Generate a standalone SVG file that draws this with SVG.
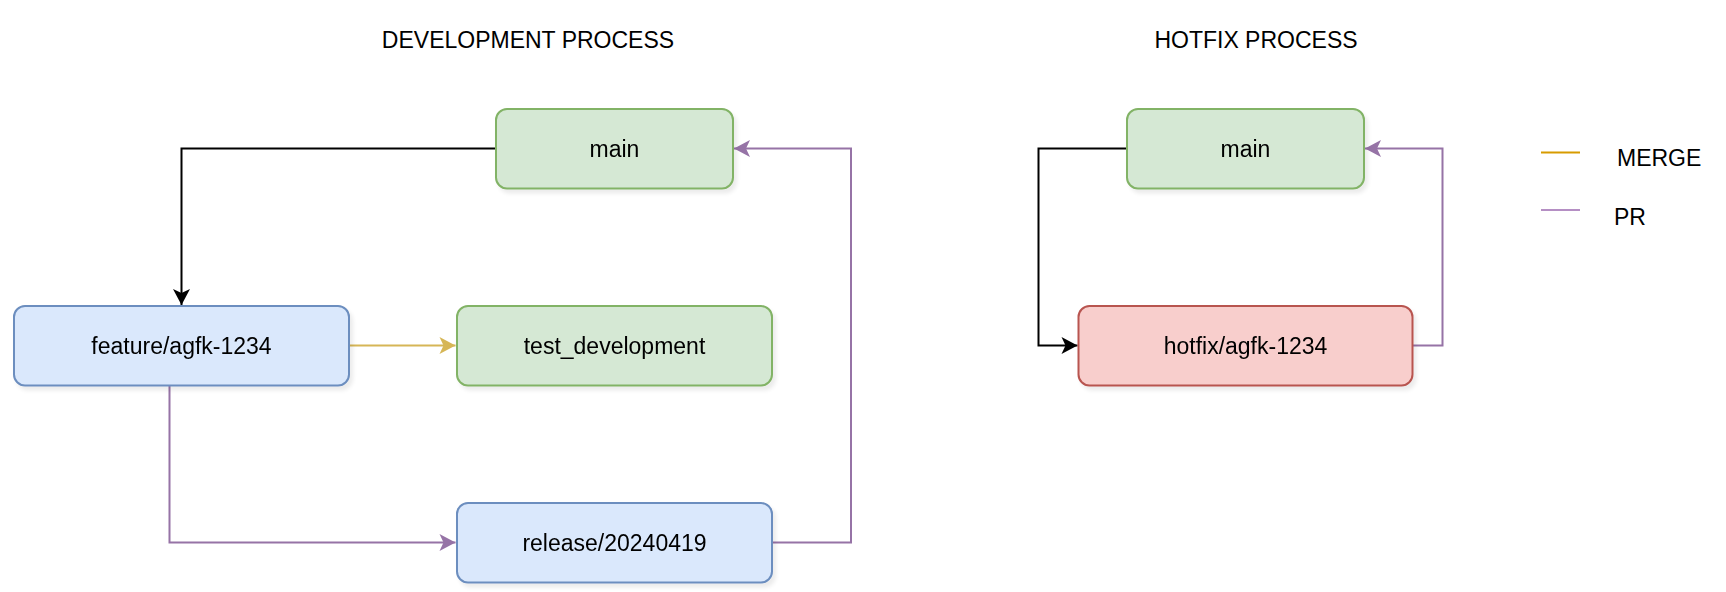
<svg xmlns="http://www.w3.org/2000/svg" width="1726" height="592" viewBox="0 0 1726 592">
<defs>
<style>
text{font-family:"Liberation Sans",Arial,sans-serif;font-size:23px;fill:#000}
.t{text-anchor:middle;dominant-baseline:central}
.green{fill:#d5e8d4;stroke:#82b366;stroke-width:2}
.blue{fill:#dae8fc;stroke:#6c8ebf;stroke-width:2}
.red{fill:#f8cecc;stroke:#b85450;stroke-width:2}
.c{fill:none;stroke-width:2}
.k{stroke:#000}
.p{stroke:#9673a6}
.y{stroke:#d6b656}
</style>
<filter id="sh" x="-10%" y="-10%" width="130%" height="140%">
<feGaussianBlur in="SourceAlpha" stdDeviation="2"/>
<feOffset dx="3" dy="4"/>
<feComponentTransfer><feFuncA type="linear" slope="0.08"/></feComponentTransfer>
<feMerge><feMergeNode/><feMergeNode in="SourceGraphic"/></feMerge>
</filter>
<marker id="ak" viewBox="-17 -9 18 18" refX="0" refY="0" markerWidth="18" markerHeight="18" markerUnits="userSpaceOnUse" orient="auto"><path d="M0,0L-16,-8.5L-12,0L-16,8.5Z" fill="#000"/></marker>
<marker id="ap" viewBox="-17 -9 18 18" refX="0" refY="0" markerWidth="18" markerHeight="18" markerUnits="userSpaceOnUse" orient="auto"><path d="M0,0L-16,-8.5L-12,0L-16,8.5Z" fill="#9673a6"/></marker>
<marker id="ay" viewBox="-17 -9 18 18" refX="0" refY="0" markerWidth="18" markerHeight="18" markerUnits="userSpaceOnUse" orient="auto"><path d="M0,0L-16,-8.5L-12,0L-16,8.5Z" fill="#d6b656"/></marker>
</defs>
<rect width="1726" height="592" fill="#fff"/>

<g id="titles">
<text x="528" y="40" class="t">DEVELOPMENT PROCESS</text>
<text x="1256" y="40" class="t">HOTFIX PROCESS</text>
</g>

<g id="connectors">
<path class="c k" d="M496,148.5H181.5V305" marker-end="url(#ak)"/>
<path class="c y" d="M349,345.5H455.5" marker-end="url(#ay)"/>
<path class="c p" d="M169.5,385V542.5H455.5" marker-end="url(#ap)"/>
<path class="c p" d="M772,542.5H851V148.5H734" marker-end="url(#ap)"/>
<path class="c k" d="M1128,148.5H1038.5V345.5H1077.5" marker-end="url(#ak)"/>
<path class="c p" d="M1413,345.5H1442.5V148.5H1365" marker-end="url(#ap)"/>
</g>

<g id="dev-main" filter="url(#sh)">
<rect class="green" x="496" y="109" width="237" height="79.5" rx="11"/>
<text x="614.5" y="148.5" class="t">main</text>
</g>
<g id="feature" filter="url(#sh)">
<rect class="blue" x="14" y="306" width="335" height="79.5" rx="11"/>
<text x="181.5" y="345.5" class="t">feature/agfk-1234</text>
</g>
<g id="test-development" filter="url(#sh)">
<rect class="green" x="457" y="306" width="315" height="79.5" rx="11"/>
<text x="614.5" y="345.5" class="t">test_development</text>
</g>
<g id="release" filter="url(#sh)">
<rect class="blue" x="457" y="503" width="315" height="79.5" rx="11"/>
<text x="614.5" y="542.5" class="t">release/20240419</text>
</g>
<g id="hotfix-main" filter="url(#sh)">
<rect class="green" x="1127" y="109" width="237" height="79.5" rx="11"/>
<text x="1245.5" y="148.5" class="t">main</text>
</g>
<g id="hotfix" filter="url(#sh)">
<rect class="red" x="1078.5" y="306" width="334" height="79.5" rx="11"/>
<text x="1245.5" y="345.5" class="t">hotfix/agfk-1234</text>
</g>

<g id="legend">
<line x1="1541" y1="152.5" x2="1580" y2="152.5" stroke="#d79b00" stroke-width="2"/>
<text x="1617" y="166">MERGE</text>
<line x1="1541" y1="210" x2="1580" y2="210" stroke="#b58fc4" stroke-width="2"/>
<text x="1614" y="225">PR</text>
</g>
</svg>
